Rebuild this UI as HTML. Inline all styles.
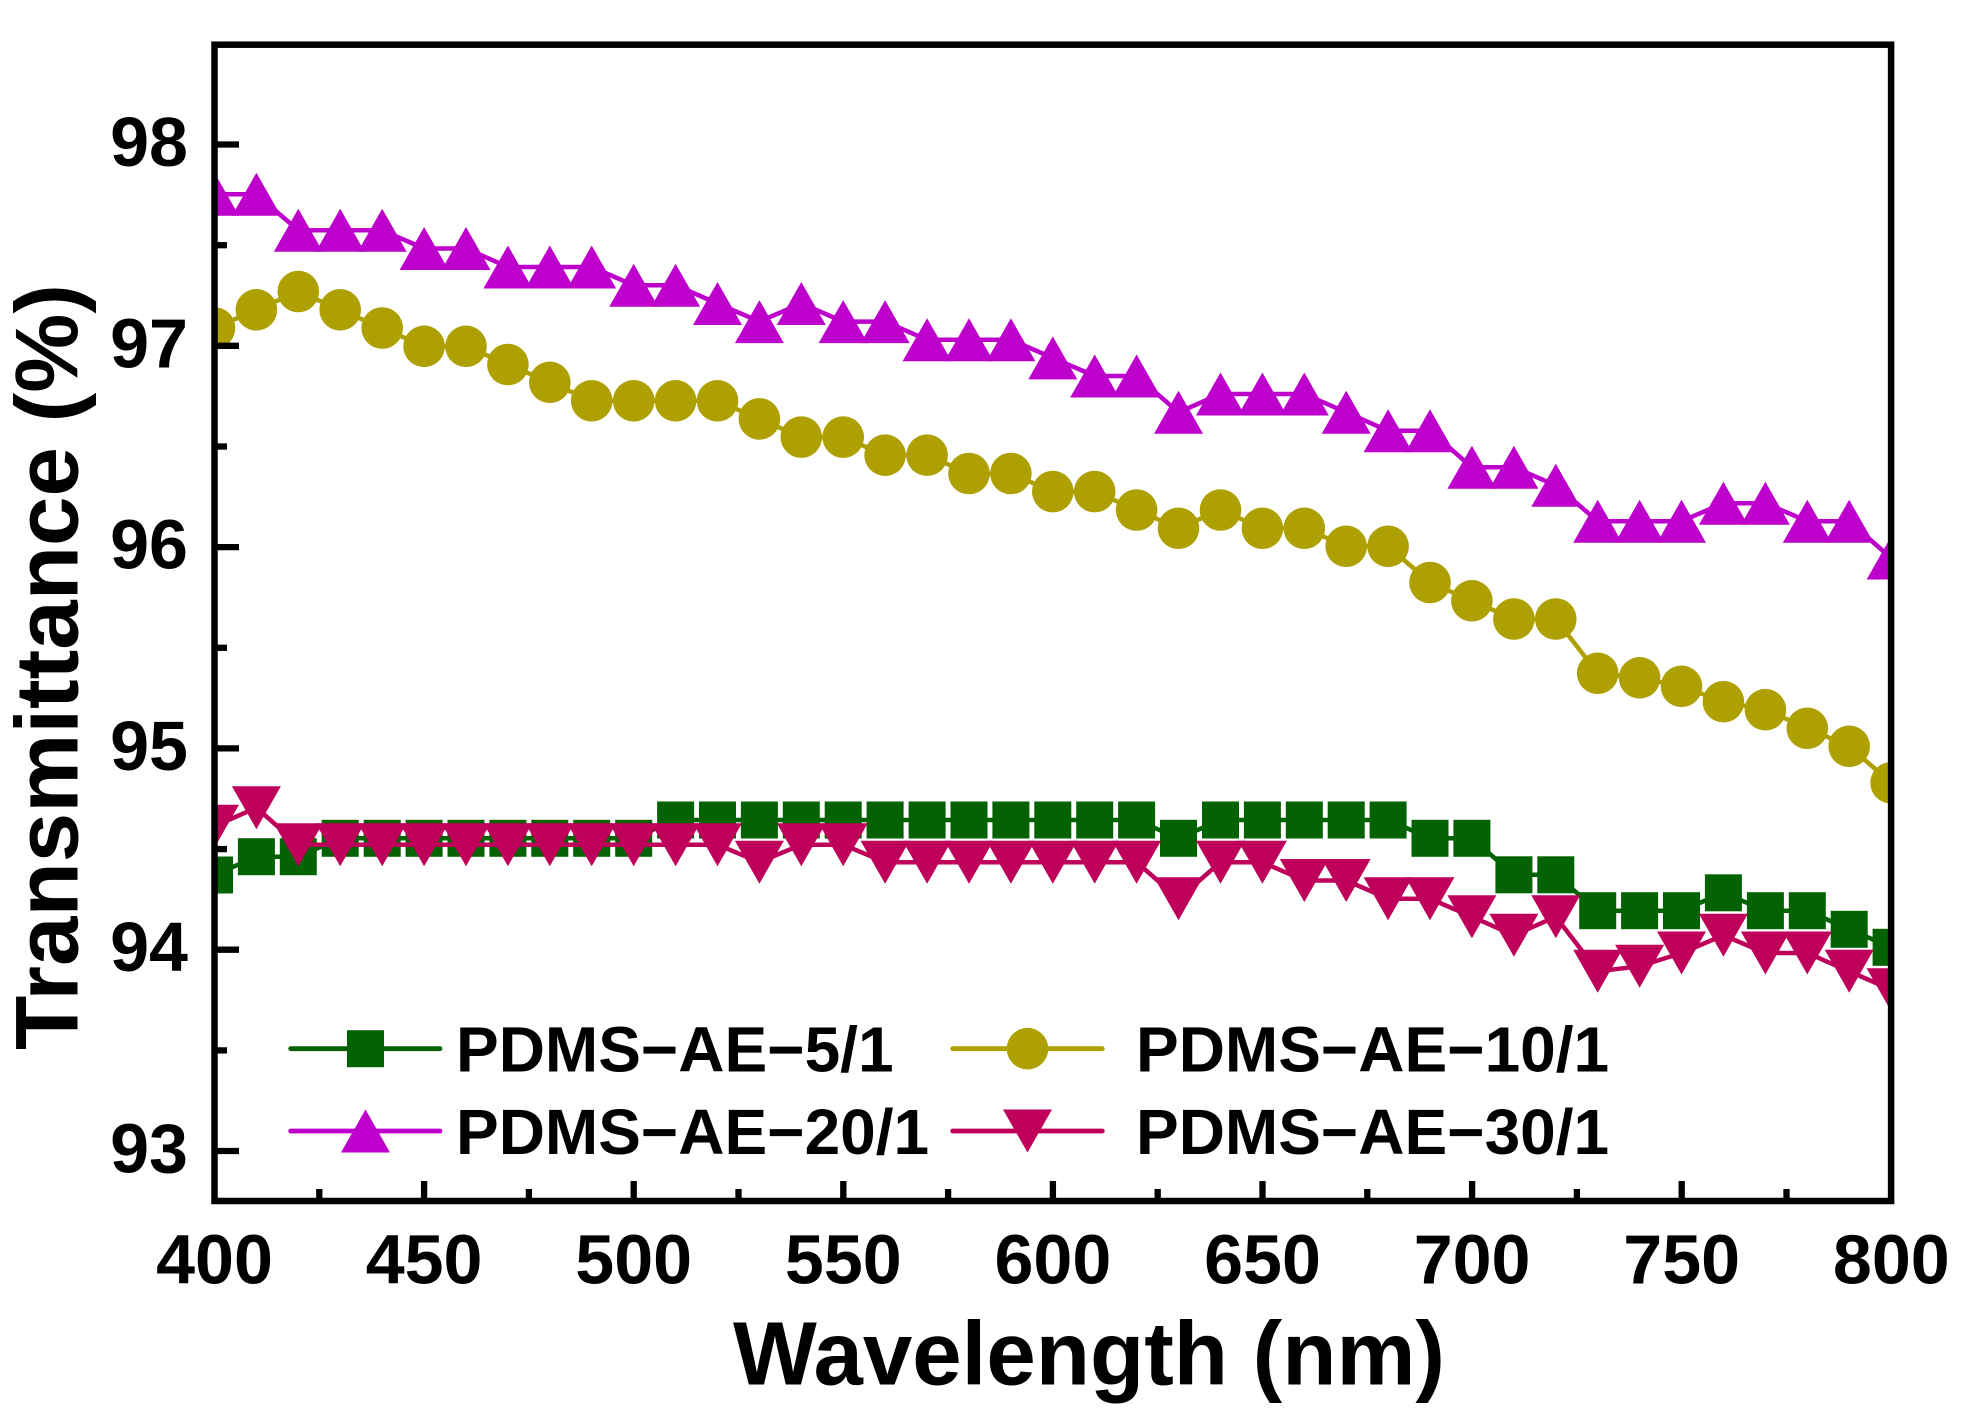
<!DOCTYPE html>
<html>
<head>
<meta charset="utf-8">
<style>
  html, body { margin: 0; padding: 0; background: #ffffff; }
  svg { display: block; }
  text { font-family: "Liberation Sans", Arial, sans-serif; font-weight: bold; fill: #000; }
</style>
</head>
<body>
<svg width="1973" height="1423" viewBox="0 0 1973 1423" xmlns="http://www.w3.org/2000/svg">
  <defs>
    <clipPath id="plot">
      <rect x="214.5" y="44.7" width="1676.6" height="1156.3"/>
    </clipPath>
    <rect id="sq" x="-18.5" y="-18.5" width="37" height="37" fill="#036303"/>
    <circle id="ci" cx="0" cy="0" r="20.8" fill="#ADA000"/>
    <polygon id="tu" points="0,-21.5 -24.5,21.5 24.5,21.5" fill="#BE00CC"/>
    <polygon id="td" points="-24.5,-21.5 24.5,-21.5 0,21.5" fill="#BF005A"/>
  </defs>
  <rect x="0" y="0" width="1973" height="1423" fill="#fff"/>

  <g clip-path="url(#plot)">
    <!-- PDMS-AE-5/1 -->
    <polyline fill="none" stroke="#036303" stroke-width="4.5" stroke-linejoin="round" points="214.5,875 256.4,856.7 298.3,856.7 340.2,838.3 382.2,838.3 424.1,838.3 466.0,838.3 507.9,838.3 549.8,838.3 591.7,838.3 633.7,838.3 675.6,820 717.5,820 759.4,820 801.3,820 843.2,820 885.1,820 927.1,820 969.0,820 1010.9,820 1052.8,820 1094.7,820 1136.6,820 1178.5,838.3 1220.5,820 1262.4,820 1304.3,820 1346.2,820 1388.1,820 1430.0,838.3 1471.9,838.3 1513.9,874.8 1555.8,874.8 1597.7,910.7 1639.6,910.7 1681.5,910.7 1723.4,892.8 1765.4,910.7 1807.3,910.7 1849.2,929.3 1891.1,947.3"/>
    <g>
      <use href="#sq" x="214.5" y="875"/><use href="#sq" x="256.4" y="856.7"/><use href="#sq" x="298.3" y="856.7"/><use href="#sq" x="340.2" y="838.3"/><use href="#sq" x="382.2" y="838.3"/><use href="#sq" x="424.1" y="838.3"/><use href="#sq" x="466.0" y="838.3"/><use href="#sq" x="507.9" y="838.3"/><use href="#sq" x="549.8" y="838.3"/><use href="#sq" x="591.7" y="838.3"/><use href="#sq" x="633.7" y="838.3"/><use href="#sq" x="675.6" y="820"/><use href="#sq" x="717.5" y="820"/><use href="#sq" x="759.4" y="820"/><use href="#sq" x="801.3" y="820"/><use href="#sq" x="843.2" y="820"/><use href="#sq" x="885.1" y="820"/><use href="#sq" x="927.1" y="820"/><use href="#sq" x="969.0" y="820"/><use href="#sq" x="1010.9" y="820"/><use href="#sq" x="1052.8" y="820"/><use href="#sq" x="1094.7" y="820"/><use href="#sq" x="1136.6" y="820"/><use href="#sq" x="1178.5" y="838.3"/><use href="#sq" x="1220.5" y="820"/><use href="#sq" x="1262.4" y="820"/><use href="#sq" x="1304.3" y="820"/><use href="#sq" x="1346.2" y="820"/><use href="#sq" x="1388.1" y="820"/><use href="#sq" x="1430.0" y="838.3"/><use href="#sq" x="1471.9" y="838.3"/><use href="#sq" x="1513.9" y="874.8"/><use href="#sq" x="1555.8" y="874.8"/><use href="#sq" x="1597.7" y="910.7"/><use href="#sq" x="1639.6" y="910.7"/><use href="#sq" x="1681.5" y="910.7"/><use href="#sq" x="1723.4" y="892.8"/><use href="#sq" x="1765.4" y="910.7"/><use href="#sq" x="1807.3" y="910.7"/><use href="#sq" x="1849.2" y="929.3"/><use href="#sq" x="1891.1" y="947.3"/>
    </g>

    <!-- PDMS-AE-10/1 -->
    <polyline fill="none" stroke="#ADA000" stroke-width="4.5" stroke-linejoin="round" points="214.5,328 256.4,309.8 298.3,291.5 340.2,309.8 382.2,328 424.1,346.3 466.0,346.3 507.9,364.5 549.8,382.3 591.7,400.8 633.7,400.8 675.6,400.8 717.5,400.8 759.4,418.9 801.3,437.1 843.2,437.1 885.1,455.2 927.1,455.2 969.0,473.5 1010.9,473.5 1052.8,491.6 1094.7,491.6 1136.6,510 1178.5,528.3 1220.5,510 1262.4,528.3 1304.3,528.3 1346.2,546.3 1388.1,546.3 1430.0,582.5 1471.9,600.8 1513.9,619 1555.8,619 1597.7,673.3 1639.6,677.8 1681.5,686.3 1723.4,701.7 1765.4,709.7 1807.3,728.3 1849.2,746.3 1891.1,782.8"/>
    <g>
      <use href="#ci" x="214.5" y="328"/><use href="#ci" x="256.4" y="309.8"/><use href="#ci" x="298.3" y="291.5"/><use href="#ci" x="340.2" y="309.8"/><use href="#ci" x="382.2" y="328"/><use href="#ci" x="424.1" y="346.3"/><use href="#ci" x="466.0" y="346.3"/><use href="#ci" x="507.9" y="364.5"/><use href="#ci" x="549.8" y="382.3"/><use href="#ci" x="591.7" y="400.8"/><use href="#ci" x="633.7" y="400.8"/><use href="#ci" x="675.6" y="400.8"/><use href="#ci" x="717.5" y="400.8"/><use href="#ci" x="759.4" y="418.9"/><use href="#ci" x="801.3" y="437.1"/><use href="#ci" x="843.2" y="437.1"/><use href="#ci" x="885.1" y="455.2"/><use href="#ci" x="927.1" y="455.2"/><use href="#ci" x="969.0" y="473.5"/><use href="#ci" x="1010.9" y="473.5"/><use href="#ci" x="1052.8" y="491.6"/><use href="#ci" x="1094.7" y="491.6"/><use href="#ci" x="1136.6" y="510"/><use href="#ci" x="1178.5" y="528.3"/><use href="#ci" x="1220.5" y="510"/><use href="#ci" x="1262.4" y="528.3"/><use href="#ci" x="1304.3" y="528.3"/><use href="#ci" x="1346.2" y="546.3"/><use href="#ci" x="1388.1" y="546.3"/><use href="#ci" x="1430.0" y="582.5"/><use href="#ci" x="1471.9" y="600.8"/><use href="#ci" x="1513.9" y="619"/><use href="#ci" x="1555.8" y="619"/><use href="#ci" x="1597.7" y="673.3"/><use href="#ci" x="1639.6" y="677.8"/><use href="#ci" x="1681.5" y="686.3"/><use href="#ci" x="1723.4" y="701.7"/><use href="#ci" x="1765.4" y="709.7"/><use href="#ci" x="1807.3" y="728.3"/><use href="#ci" x="1849.2" y="746.3"/><use href="#ci" x="1891.1" y="782.8"/>
    </g>

    <!-- PDMS-AE-20/1 -->
    <polyline fill="none" stroke="#BE00CC" stroke-width="4.5" stroke-linejoin="round" points="214.5,194.3 256.4,194.3 298.3,230.3 340.2,230.3 382.2,230.3 424.1,248.5 466.0,248.5 507.9,267 549.8,267 591.7,267 633.7,285.3 675.6,285.3 717.5,303.5 759.4,321.6 801.3,303.5 843.2,321.6 885.1,321.6 927.1,339.8 969.0,339.8 1010.9,339.8 1052.8,357.9 1094.7,376 1136.6,376 1178.5,412.3 1220.5,394 1262.4,394 1304.3,394 1346.2,412.3 1388.1,430.8 1430.0,430.8 1471.9,467.3 1513.9,467.3 1555.8,485.3 1597.7,521.2 1639.6,521.2 1681.5,521.2 1723.4,503.3 1765.4,503.3 1807.3,521.2 1849.2,521.2 1891.1,558"/>
    <g>
      <use href="#tu" x="214.5" y="194.3"/><use href="#tu" x="256.4" y="194.3"/><use href="#tu" x="298.3" y="230.3"/><use href="#tu" x="340.2" y="230.3"/><use href="#tu" x="382.2" y="230.3"/><use href="#tu" x="424.1" y="248.5"/><use href="#tu" x="466.0" y="248.5"/><use href="#tu" x="507.9" y="267"/><use href="#tu" x="549.8" y="267"/><use href="#tu" x="591.7" y="267"/><use href="#tu" x="633.7" y="285.3"/><use href="#tu" x="675.6" y="285.3"/><use href="#tu" x="717.5" y="303.5"/><use href="#tu" x="759.4" y="321.6"/><use href="#tu" x="801.3" y="303.5"/><use href="#tu" x="843.2" y="321.6"/><use href="#tu" x="885.1" y="321.6"/><use href="#tu" x="927.1" y="339.8"/><use href="#tu" x="969.0" y="339.8"/><use href="#tu" x="1010.9" y="339.8"/><use href="#tu" x="1052.8" y="357.9"/><use href="#tu" x="1094.7" y="376"/><use href="#tu" x="1136.6" y="376"/><use href="#tu" x="1178.5" y="412.3"/><use href="#tu" x="1220.5" y="394"/><use href="#tu" x="1262.4" y="394"/><use href="#tu" x="1304.3" y="394"/><use href="#tu" x="1346.2" y="412.3"/><use href="#tu" x="1388.1" y="430.8"/><use href="#tu" x="1430.0" y="430.8"/><use href="#tu" x="1471.9" y="467.3"/><use href="#tu" x="1513.9" y="467.3"/><use href="#tu" x="1555.8" y="485.3"/><use href="#tu" x="1597.7" y="521.2"/><use href="#tu" x="1639.6" y="521.2"/><use href="#tu" x="1681.5" y="521.2"/><use href="#tu" x="1723.4" y="503.3"/><use href="#tu" x="1765.4" y="503.3"/><use href="#tu" x="1807.3" y="521.2"/><use href="#tu" x="1849.2" y="521.2"/><use href="#tu" x="1891.1" y="558"/>
    </g>

    <!-- PDMS-AE-30/1 -->
    <polyline fill="none" stroke="#BF005A" stroke-width="4.5" stroke-linejoin="round" points="214.5,826.2 256.4,807.7 298.3,844.7 340.2,844.7 382.2,844.7 424.1,844.7 466.0,844.7 507.9,844.7 549.8,844.7 591.7,844.7 633.7,844.7 675.6,844.7 717.5,844.7 759.4,862.2 801.3,844.7 843.2,844.7 885.1,862.2 927.1,862.2 969.0,862.2 1010.9,862.2 1052.8,862.2 1094.7,862.2 1136.6,862.2 1178.5,898.7 1220.5,862.2 1262.4,862.2 1304.3,880.5 1346.2,880.5 1388.1,898.7 1430.0,898.7 1471.9,916.7 1513.9,935.3 1555.8,916.7 1597.7,971.3 1639.6,966.3 1681.5,953 1723.4,935.3 1765.4,953 1807.3,953 1849.2,971.3 1891.1,989.7"/>
    <g>
      <use href="#td" x="214.5" y="826.2"/><use href="#td" x="256.4" y="807.7"/><use href="#td" x="298.3" y="844.7"/><use href="#td" x="340.2" y="844.7"/><use href="#td" x="382.2" y="844.7"/><use href="#td" x="424.1" y="844.7"/><use href="#td" x="466.0" y="844.7"/><use href="#td" x="507.9" y="844.7"/><use href="#td" x="549.8" y="844.7"/><use href="#td" x="591.7" y="844.7"/><use href="#td" x="633.7" y="844.7"/><use href="#td" x="675.6" y="844.7"/><use href="#td" x="717.5" y="844.7"/><use href="#td" x="759.4" y="862.2"/><use href="#td" x="801.3" y="844.7"/><use href="#td" x="843.2" y="844.7"/><use href="#td" x="885.1" y="862.2"/><use href="#td" x="927.1" y="862.2"/><use href="#td" x="969.0" y="862.2"/><use href="#td" x="1010.9" y="862.2"/><use href="#td" x="1052.8" y="862.2"/><use href="#td" x="1094.7" y="862.2"/><use href="#td" x="1136.6" y="862.2"/><use href="#td" x="1178.5" y="898.7"/><use href="#td" x="1220.5" y="862.2"/><use href="#td" x="1262.4" y="862.2"/><use href="#td" x="1304.3" y="880.5"/><use href="#td" x="1346.2" y="880.5"/><use href="#td" x="1388.1" y="898.7"/><use href="#td" x="1430.0" y="898.7"/><use href="#td" x="1471.9" y="916.7"/><use href="#td" x="1513.9" y="935.3"/><use href="#td" x="1555.8" y="916.7"/><use href="#td" x="1597.7" y="971.3"/><use href="#td" x="1639.6" y="966.3"/><use href="#td" x="1681.5" y="953"/><use href="#td" x="1723.4" y="935.3"/><use href="#td" x="1765.4" y="953"/><use href="#td" x="1807.3" y="953"/><use href="#td" x="1849.2" y="971.3"/><use href="#td" x="1891.1" y="989.7"/>
    </g>
  </g>

  <!-- Legend -->
  <g>
    <line x1="290.7" y1="1048.7" x2="440" y2="1048.7" stroke="#036303" stroke-width="4.8" stroke-linecap="round"/>
    <use href="#sq" x="365.5" y="1048.7"/>
    <text x="456" y="1071.7" font-size="64">PDMS−AE−5/1</text>

    <line x1="952.7" y1="1048.7" x2="1102.3" y2="1048.7" stroke="#ADA000" stroke-width="4.8" stroke-linecap="round"/>
    <use href="#ci" x="1027.5" y="1048.7"/>
    <text x="1136" y="1071.7" font-size="64">PDMS−AE−10/1</text>

    <line x1="290.7" y1="1131" x2="440" y2="1131" stroke="#BE00CC" stroke-width="4.8" stroke-linecap="round"/>
    <use href="#tu" x="365.5" y="1131"/>
    <text x="456" y="1154" font-size="64">PDMS−AE−20/1</text>

    <line x1="952.7" y1="1131" x2="1102.3" y2="1131" stroke="#BF005A" stroke-width="4.8" stroke-linecap="round"/>
    <use href="#td" x="1027.5" y="1131"/>
    <text x="1136" y="1154" font-size="64">PDMS−AE−30/1</text>
  </g>

  <!-- Axes frame -->
  <rect x="214.5" y="44.7" width="1676.6" height="1156.3" fill="none" stroke="#000" stroke-width="6.5"/>

  <!-- Y ticks -->
  <g stroke="#000" stroke-width="6.3">
    <line x1="214.5" y1="144.5" x2="239" y2="144.5"/>
    <line x1="214.5" y1="345.8" x2="239" y2="345.8"/>
    <line x1="214.5" y1="547.1" x2="239" y2="547.1"/>
    <line x1="214.5" y1="748.4" x2="239" y2="748.4"/>
    <line x1="214.5" y1="949.7" x2="239" y2="949.7"/>
    <line x1="214.5" y1="1151" x2="239" y2="1151"/>
    <line x1="214.5" y1="245.2" x2="227" y2="245.2"/>
    <line x1="214.5" y1="446.5" x2="227" y2="446.5"/>
    <line x1="214.5" y1="647.8" x2="227" y2="647.8"/>
    <line x1="214.5" y1="849.1" x2="227" y2="849.1"/>
    <line x1="214.5" y1="1050.4" x2="227" y2="1050.4"/>
  </g>

  <!-- X ticks -->
  <g stroke="#000" stroke-width="6.3">
    <line x1="424.1" y1="1201" x2="424.1" y2="1181"/>
    <line x1="633.7" y1="1201" x2="633.7" y2="1181"/>
    <line x1="843.3" y1="1201" x2="843.3" y2="1181"/>
    <line x1="1052.9" y1="1201" x2="1052.9" y2="1181"/>
    <line x1="1262.5" y1="1201" x2="1262.5" y2="1181"/>
    <line x1="1472.1" y1="1201" x2="1472.1" y2="1181"/>
    <line x1="1681.7" y1="1201" x2="1681.7" y2="1181"/>
    <line x1="319.3" y1="1201" x2="319.3" y2="1189"/>
    <line x1="528.9" y1="1201" x2="528.9" y2="1189"/>
    <line x1="738.5" y1="1201" x2="738.5" y2="1189"/>
    <line x1="948.1" y1="1201" x2="948.1" y2="1189"/>
    <line x1="1157.7" y1="1201" x2="1157.7" y2="1189"/>
    <line x1="1367.3" y1="1201" x2="1367.3" y2="1189"/>
    <line x1="1576.9" y1="1201" x2="1576.9" y2="1189"/>
    <line x1="1786.5" y1="1201" x2="1786.5" y2="1189"/>
  </g>

  <!-- Y tick labels -->
  <g font-size="70" text-anchor="end">
    <text x="188" y="166">98</text>
    <text x="188" y="367.3">97</text>
    <text x="188" y="568.6">96</text>
    <text x="188" y="769.9">95</text>
    <text x="188" y="971.2">94</text>
    <text x="188" y="1172.5">93</text>
  </g>

  <!-- X tick labels -->
  <g font-size="70" text-anchor="middle">
    <text x="214.5" y="1283.5">400</text>
    <text x="424.1" y="1283.5">450</text>
    <text x="633.7" y="1283.5">500</text>
    <text x="843.3" y="1283.5">550</text>
    <text x="1052.9" y="1283.5">600</text>
    <text x="1262.5" y="1283.5">650</text>
    <text x="1472.1" y="1283.5">700</text>
    <text x="1681.7" y="1283.5">750</text>
    <text x="1891.3" y="1283.5">800</text>
  </g>

  <!-- Axis titles -->
  <text x="733" y="1384.3" font-size="90" textLength="712" lengthAdjust="spacingAndGlyphs">Wavelength (nm)</text>
  <text transform="translate(77.7,1050) rotate(-90)" x="0" y="0" font-size="89" textLength="766" lengthAdjust="spacingAndGlyphs">Transmittance (%)</text>
</svg>
</body>
</html>
